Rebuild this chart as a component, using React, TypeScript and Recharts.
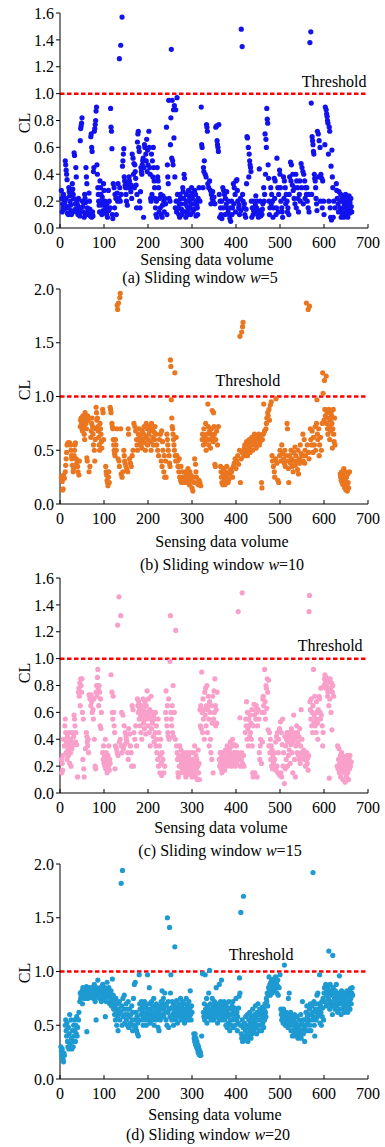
import React from "react"
import { ScatterChart, Scatter, XAxis, YAxis, ReferenceLine, ReferenceDot } from "recharts"

const xTicks = [0, 100, 200, 300, 400, 500, 600, 700]
const yTicksSmall = [0, 0.2, 0.4, 0.6, 0.8, 1.0, 1.2, 1.4, 1.6]
const yTicksLarge = [0, 0.5, 1.0, 1.5, 2.0]

// (a) w=5
const ptsA: number[][] = [
  [3,0.28],[4,0.22],[6,0.18],[7,0.15],[9,0.21],[10,0.14],[12,0.5],[13,0.47],[14,0.43],[15,0.4],[16,0.36],[14,0.22],[15,0.16],[17,0.11],[19,0.1],[20,0.3],[21,0.27],[22,0.24],[23,0.2],[24,0.17],[25,0.13],[26,0.1],[28,0.33],[29,0.29],[30,0.25],[31,0.22],[32,0.56],[33,0.54],[34,0.18],[35,0.14],[36,0.45],[37,0.38],[38,0.12],[39,0.2],[40,0.17],[41,0.1],[43,0.14],[44,0.12],[45,0.09],[46,0.65],[47,0.74],[48,0.76],[49,0.78],[50,0.82],[51,0.2],[52,0.16],[53,0.12],
  [55,0.08],[56,0.25],[57,0.22],[58,0.19],[59,0.45],[60,0.38],[61,0.33],[62,0.15],[63,0.12],[64,0.1],[66,0.26],[67,0.2],[68,0.14],[69,0.09],[70,0.68],[71,0.7],[72,0.6],[73,0.57],[74,0.12],[75,0.09],[76,0.42],[77,0.45],[78,0.72],[79,0.74],[80,0.77],[81,0.8],[82,0.87],[83,0.9],[84,0.47],[85,0.4],[86,0.3],[87,0.25],[88,0.2],[89,0.17],[91,0.35],[92,0.3],[93,0.25],[94,0.2],[95,0.1],[97,0.17],[98,0.13],[99,0.33],[100,0.28],
  [102,0.2],[104,0.15],[106,0.1],[108,0.08],[110,0.28],[112,0.2],[114,0.15],[115,0.89],[116,0.75],[117,0.72],[118,0.59],[119,0.1],[121,0.33],[123,0.3],[125,0.25],[127,0.22],[128,0.1],[130,0.26],[132,0.33],[134,0.22],[135,1.26],[138,1.36],[141,1.57],[136,0.3],[139,0.25],[142,0.46],[143,0.5],[144,0.55],[145,0.59],[146,0.38],[147,0.35],[148,0.32],[149,0.3],[150,0.25],[151,0.2],
  [153,0.17],[155,0.33],[157,0.38],[159,0.3],[161,0.27],[163,0.22],[164,0.55],[166,0.52],[168,0.48],[170,0.47],[171,0.42],[172,0.37],[173,0.32],[175,0.25],[176,0.64],[177,0.7],[178,0.72],[179,0.6],[180,0.57],[181,0.2],[182,0.15],[184,0.45],[185,0.42],[186,0.4],[187,0.47],[188,0.5],[189,0.52],[190,0.08],[192,0.62],[193,0.6],[195,0.55],[196,0.5],[197,0.66],[199,0.58],[200,0.47],
  [202,0.72],[203,0.6],[204,0.45],[205,0.4],[206,0.22],[207,0.2],[208,0.55],[210,0.5],[212,0.6],[213,0.45],[214,0.35],[215,0.3],[216,0.22],[217,0.15],[218,0.1],[220,0.08],[221,0.45],[222,0.38],[223,0.35],[224,0.3],[226,0.22],[228,0.15],[230,0.1],[232,0.08],[234,0.24],[236,0.2],[238,0.22],[240,0.18],[242,0.75],[244,0.47],[245,0.38],[246,0.33],[247,0.95],[248,0.22],[250,0.2],[251,0.62],[252,0.82],[253,1.33],[254,0.52],[255,0.95],[256,0.5],[257,0.47],
  [258,0.88],[259,0.67],[260,0.91],[261,0.38],[262,0.15],[263,0.88],[264,0.2],[266,0.97],[267,0.25],[268,0.2],[269,0.15],[270,0.1],[272,0.08],[274,0.22],[275,0.18],[276,0.14],[277,0.1],[279,0.3],[280,0.27],[281,0.22],[282,0.4],[283,0.37],[284,0.18],[285,0.12],[287,0.25],[288,0.2],[289,0.16],[290,0.1],[292,0.28],[293,0.24],[294,0.2],[296,0.15],[297,0.1],[299,0.3],[300,0.26],
  [301,0.22],[303,0.18],[305,0.14],[306,0.28],[308,0.25],[310,0.2],[312,0.15],[313,0.1],[316,0.3],[318,0.2],[321,0.9],[322,0.62],[323,0.6],[325,0.3],[326,0.45],[327,0.42],[328,0.5],[330,0.4],[332,0.38],[333,0.77],[334,0.75],[335,0.72],[336,0.33],[338,0.3],[340,0.35],[342,0.28],[344,0.25],[346,0.22],[348,0.2],
  [352,0.18],[354,0.75],[356,0.76],[357,0.65],[358,0.62],[359,0.6],[360,0.57],[361,0.77],[362,0.25],[364,0.2],[365,0.15],[366,0.1],[368,0.07],[370,0.3],[372,0.28],[374,0.25],[376,0.22],[378,0.18],[380,0.15],[382,0.12],[384,0.1],[386,0.07],[388,0.05],[390,0.2],[392,0.15],[394,0.33],[396,0.3],[398,0.25],[400,0.35],
  [402,0.36],[404,0.2],[406,0.15],[408,0.1],[410,0.22],[412,1.48],[414,1.35],[416,0.2],[418,0.15],[420,0.1],[422,0.08],[424,0.33],[425,0.68],[426,0.67],[428,0.6],[429,0.38],[430,0.55],[431,0.5],[432,0.47],[433,0.45],[434,0.42],[435,0.2],[437,0.15],[439,0.1],[441,0.2],[443,0.12],[445,0.24],[447,0.15],[449,0.1],
  [451,0.08],[453,0.44],[455,0.2],[457,0.12],[459,0.1],[461,0.18],[463,0.3],[465,0.25],[466,0.7],[467,0.4],[468,0.66],[469,0.6],[470,0.89],[471,0.81],[472,0.78],[473,0.47],[474,0.37],[475,0.2],[477,0.15],[479,0.3],[481,0.25],[483,0.2],[485,0.15],[487,0.37],[489,0.35],[491,0.1],[493,0.52],[495,0.3],[497,0.25],[499,0.43],
  [500,0.4],[502,0.2],[504,0.15],[506,0.08],[508,0.38],[510,0.35],[512,0.3],[514,0.25],[516,0.2],[518,0.15],[520,0.1],[522,0.38],[524,0.49],[526,0.47],[528,0.32],[530,0.28],[532,0.22],[534,0.18],[536,0.4],[538,0.35],[540,0.3],[542,0.12],[544,0.25],[546,0.2],[548,0.48],[550,0.45],
  [552,0.42],[554,0.4],[556,0.35],[558,0.3],[560,0.25],[562,0.2],[564,0.15],[566,0.12],[568,1.38],[570,1.46],[571,0.93],[573,0.68],[574,0.65],[575,0.62],[576,0.57],[577,0.55],[578,0.4],[579,0.37],[580,0.35],[581,0.3],[582,0.22],[583,0.18],[585,0.72],[587,0.7],[589,0.65],[591,0.6],[593,0.4],[595,0.37],[597,0.35],[599,0.2],
  [600,0.1],[602,0.62],[603,0.9],[605,0.88],[606,0.85],[607,0.83],[608,0.8],[609,0.78],[610,0.55],[611,0.2],[612,0.75],[613,0.72],[614,0.15],[615,0.08],[616,0.46],[617,0.06],[618,0.58],[619,0.38],[620,0.3],[622,0.2],[628,0.33],[630,0.22],[632,0.18],[634,0.27],[636,0.15],[638,0.25],[640,0.12],[641,0.23],[642,0.1],[644,0.2],[645,0.08],[646,0.18],[648,0.15],[649,0.25],[650,0.12],[651,0.22],[652,0.1],[653,0.2],[654,0.08],[655,0.17],[656,0.14],[657,0.24],[658,0.11],[659,0.19],[660,0.13],[661,0.22],[662,0.16],
  [5,0.12],[8,0.25],[11,0.19],[18,0.15],[27,0.28],[29,0.12],[42,0.22],[47,0.15],[54,0.19],[58,0.1],[65,0.14],[72,0.08],[90,0.12],[96,0.23],[103,0.12],[107,0.18],[111,0.13],[120,0.07],[124,0.15],[131,0.2],[137,0.2],[154,0.3],[158,0.35],[162,0.32],[167,0.4],[169,0.3],[174,0.15],[183,0.27],[191,0.45],[198,0.42],
  [209,0.25],[211,0.38],[219,0.2],[225,0.12],[229,0.25],[233,0.17],[237,0.12],[243,0.1],[265,0.12],[271,0.18],[273,0.25],[278,0.13],[286,0.08],[291,0.13],[295,0.22],[298,0.18],[302,0.12],[304,0.25],[309,0.09],[311,0.17],[314,0.22],[343,0.18],[347,0.27],[350,0.23],[363,0.08],[367,0.2],[371,0.15],[375,0.1],[379,0.27],[383,0.2],
  [387,0.15],[391,0.1],[395,0.18],[399,0.12],[403,0.28],[407,0.17],[411,0.13],[415,0.25],[419,0.18],[423,0.14],[436,0.08],[440,0.13],[444,0.17],[448,0.2],[452,0.13],[456,0.09],[460,0.14],[464,0.2],[476,0.1],[480,0.18],[484,0.08],[488,0.22],[492,0.15],[496,0.12],[501,0.3],[505,0.12],[509,0.22],[513,0.18],[517,0.12],[521,0.25],
  [525,0.35],[529,0.4],[533,0.3],[537,0.15],[541,0.22],[545,0.35],[549,0.3],[553,0.18],[557,0.22],[561,0.3],[565,0.25],[572,0.25],[584,0.13],[588,0.38],[592,0.2],[596,0.15],[621,0.08],[625,0.15],[629,0.28],[633,0.12],[637,0.2],[639,0.08],[643,0.15],[647,0.22],[663,0.12],
]

// (b) w=10
const ptsB: number[][] = [
  [3,0.25],[5,0.21],[6,0.13],[7,0.14],[8,0.27],[10,0.24],[12,0.3],[13,0.36],[14,0.42],[15,0.48],[16,0.55],[18,0.57],[20,0.57],[22,0.57],[24,0.55],[25,0.5],[26,0.45],[27,0.42],[28,0.36],[30,0.3],[31,0.33],[32,0.45],[33,0.5],[34,0.55],[35,0.57],[37,0.42],[38,0.38],[40,0.35],[41,0.3],[43,0.27],[44,0.4],
  [46,0.72],[47,0.78],[48,0.8],[49,0.75],[50,0.7],[51,0.68],[52,0.82],[53,0.77],[54,0.73],[55,0.65],[56,0.6],[57,0.85],[58,0.8],[59,0.75],[60,0.7],[61,0.43],[62,0.4],[63,0.82],[64,0.78],[66,0.3],[68,0.35],[70,0.62],[71,0.68],[72,0.75],[73,0.8],[74,0.72],[75,0.65],[76,0.55],[78,0.5],[79,0.4],[80,0.6],[81,0.7],[82,0.9],[83,0.85],[84,0.78],[85,0.8],[86,0.72],[87,0.68],[88,0.62],[89,0.55],[90,0.5],[91,0.75],[92,0.7],[93,0.65],[94,0.58],[95,0.52],[97,0.88],[98,0.85],[99,0.6],
  [104,0.35],[105,0.3],[106,0.27],[107,0.22],[108,0.2],[109,0.17],[110,0.25],[111,0.3],[112,0.2],[114,0.9],[115,0.88],[116,0.85],[118,0.75],[119,0.72],[120,0.7],[121,0.6],[122,0.55],[123,0.5],[124,0.47],[125,0.45],[126,0.6],[127,0.55],[128,0.5],[129,0.7],[130,1.85],[131,1.81],[133,1.87],[136,1.92],[137,1.96],[132,0.42],[134,0.4],[135,0.35],[138,0.7],[139,0.28],[141,0.25],[143,0.3],[145,0.5],[146,0.45],[147,0.4],[148,0.38],[150,0.35],[152,0.32],[154,0.3],[155,0.7],[156,0.65],[158,0.42],[160,0.38],[162,0.35],[164,0.45],[166,0.5],[168,0.75],
  [170,0.72],[172,0.68],[174,0.6],[175,0.55],[176,0.5],[178,0.65],[180,0.7],[182,0.62],[183,0.58],[184,0.55],[186,0.52],[187,0.68],[188,0.6],[190,0.65],[191,0.72],[192,0.57],[194,0.5],[195,0.62],[196,0.75],[198,0.7],[199,0.55],[200,0.6],[202,0.65],[203,0.72],[204,0.68],[206,0.58],[207,0.5],[208,0.75],[210,0.7],[211,0.62],[212,0.55],[214,0.67],[215,0.6],[216,0.72],[218,0.65],[220,0.55],[222,0.5],[224,0.45],[226,0.6],[228,0.65],[230,0.4],[231,0.68],[232,0.35],[233,0.58],[234,0.5],[236,0.3],[237,0.45],[238,0.25],[240,0.4],[241,0.25],
  [243,0.65],[244,0.6],[245,0.55],[246,0.5],[248,0.45],[249,0.38],[250,0.35],[251,1.34],[252,1.28],[253,0.97],[254,0.8],[255,0.72],[256,0.7],[257,0.65],[258,0.6],[259,0.55],[260,0.5],[261,1.22],[262,0.45],[263,0.4],[264,0.62],[266,0.45],[267,0.4],[268,0.35],[270,0.3],[271,0.42],[272,0.25],[274,0.22],[275,0.35],[276,0.2],[278,0.3],[280,0.25],[281,0.22],[283,0.2],[285,0.3],[287,0.27],[288,0.22],[290,0.2],[291,0.33],[292,0.25],[294,0.18],[295,0.3],[297,0.27],[298,0.22],[300,0.15],[302,0.12],[303,0.25],[305,0.2],[306,0.42],[308,0.37],[309,0.3],[310,0.25],[312,0.2],[314,0.18],[316,0.22],[318,0.2],[320,0.17],
  [323,0.6],[324,0.65],[326,0.55],[327,0.7],[328,0.62],[330,0.58],[331,0.75],[332,0.5],[334,0.65],[335,0.6],[336,0.93],[337,0.72],[338,0.55],[340,0.68],[341,0.6],[342,0.52],[343,0.65],[344,0.7],[346,0.87],[347,0.62],[348,0.58],[349,0.85],[350,0.72],[351,0.65],[352,0.37],[353,0.35],[354,0.6],[356,0.68],[358,0.55],[360,0.72],
  [365,0.35],[366,0.3],[367,0.25],[368,0.2],[370,0.18],[371,0.28],[372,0.33],[374,0.22],[375,0.18],[376,0.25],[378,0.3],[379,0.35],[380,0.27],[382,0.2],[384,0.23],[386,0.28],[388,0.32],[390,0.3],[392,0.25],[394,0.35],[396,0.38],[398,0.42],[400,0.33],[402,0.4],[404,0.45],[406,0.37],[408,0.5],[409,1.56],[410,0.2],[412,0.42],[413,1.6],[414,0.48],[415,1.65],[416,1.69],[418,0.45],[419,0.52],[420,0.55],[422,0.48],[424,0.58],[425,0.5],[426,0.45],[428,0.55],[430,0.6],[431,0.52],[432,0.48],[434,0.57],[436,0.62],[437,0.55],[438,0.5],[440,0.6],[442,0.65],[443,0.55],[444,0.58],[446,0.52],[448,0.62],[450,0.6],[452,0.65],[453,0.55],[455,0.58],[456,0.63],[458,0.2],[459,0.15],[460,0.6],[462,0.65],[463,0.93],[465,0.68],
  [468,0.7],[469,0.75],[470,0.8],[472,0.85],[473,0.82],[475,0.88],[476,0.78],[478,0.92],[480,0.95],[482,0.45],[483,0.4],[485,0.35],[487,0.3],[488,0.25],[490,0.42],[491,0.98],[493,0.38],[495,0.22],[497,0.2],[499,0.45],[500,0.5],[502,0.4],[504,0.55],[506,0.47],[508,0.42],[510,0.38],[511,0.5],[512,0.35],[514,0.45],[516,0.75],[517,0.7],[518,0.4],[519,0.33],[520,0.2],[522,0.45],[524,0.38],[525,0.5],[526,0.42],[528,0.35],[530,0.3],[531,0.48],[532,0.4],[534,0.53],[535,0.36],[536,0.45],[538,0.4],[540,0.32],[541,0.5],[542,0.28],[544,0.42],[545,0.38],[546,0.55],[548,0.47],[550,0.45],
  [552,0.65],[553,0.4],[555,0.6],[556,0.38],[557,0.5],[558,0.45],[560,1.87],[562,0.55],[564,1.81],[565,0.48],[566,0.42],[567,1.84],[569,0.7],[570,0.6],[572,0.55],[573,0.68],[575,0.48],[576,0.62],[578,0.55],[580,0.72],[581,0.5],[583,0.75],[584,0.97],[585,0.65],[586,0.6],[588,0.7],[589,0.45],[590,0.55],[592,0.62],[594,0.5],[596,0.75],[597,1.22],[598,1.03],[600,0.78],[601,1.15],[602,0.88],[603,0.82],[605,1.19],[606,0.75],[607,0.85],[608,0.7],[609,0.65],[610,0.8],[611,0.88],[612,0.72],[613,0.6],[614,0.78],[615,0.68],[616,0.85],[617,0.82],[618,0.75],[619,0.52],[620,0.7],[621,0.88],[622,0.65],[623,0.58],[624,0.8],[625,0.55],
  [637,0.28],[638,0.25],[639,0.22],[640,0.3],[641,0.2],[642,0.27],[643,0.18],[644,0.25],[645,0.33],[646,0.2],[647,0.15],[648,0.22],[649,0.3],[650,0.13],[651,0.25],[652,0.18],[653,0.12],[654,0.28],[655,0.2],[656,0.15],[658,0.3],
]

// (c) w=15
const ptsC: number[][] = [
  [3,0.25],[4,0.15],[5,0.22],[6,0.17],[7,0.28],[8,0.4],[10,0.35],[11,0.5],[12,0.55],[13,0.45],[14,0.3],[15,0.38],[16,0.25],[17,0.42],[18,0.32],[19,0.28],[20,0.35],[21,0.45],[22,0.22],[23,0.4],[24,0.3],[25,0.2],[26,0.38],[27,0.33],[28,0.45],[30,0.36],[31,0.42],[32,0.58],[33,0.55],[34,0.5],[35,0.38],[36,0.45],[38,0.36],[40,0.12],
  [42,0.75],[43,0.78],[44,0.72],[45,0.82],[46,0.65],[47,0.85],[48,0.8],[49,0.75],[50,0.85],[51,0.6],[52,0.25],[53,0.55],[54,0.18],[55,0.12],[58,0.33],[60,0.45],[61,0.42],[62,0.38],[63,0.35],[64,0.4],[65,0.3],[66,0.73],[68,0.7],[70,0.65],[71,0.73],[72,0.68],[73,0.6],[75,0.62],[76,0.55],[77,0.7],[78,0.4],[80,0.2],[81,0.18],[82,0.75],[83,0.8],[84,0.72],[85,0.86],[86,0.92],[87,0.78],[88,0.65],[89,0.8],[90,0.75],[91,0.5],[92,0.7],[93,0.48],[94,0.6],
  [97,0.3],[98,0.25],[99,0.35],[100,0.22],[101,0.28],[102,0.2],[103,0.4],[104,0.18],[105,0.3],[106,0.25],[107,0.15],[108,0.22],[109,0.28],[110,0.2],[111,0.35],[112,0.17],[113,0.25],[114,0.22],[116,0.88],[118,0.75],[119,0.6],[120,0.55],[121,0.72],[122,0.6],[123,0.5],[124,0.45],[125,0.18],[126,0.35],[128,0.33],[130,0.3],[131,1.25],[132,0.28],[134,1.46],[135,0.38],[137,0.4],[138,1.32],[139,0.35],[140,0.6],[141,0.3],[143,0.58],[144,0.33],[146,0.5],[147,0.36],[148,0.45],[150,0.42],[151,0.4],[152,0.38],[154,0.3],[155,0.25],[156,0.48],[158,0.44],[160,0.35],[162,0.3],[163,0.2],[164,0.65],[166,0.62],[167,0.2],[168,0.45],[170,0.4],[172,0.5],[174,0.35],
  [176,0.7],[177,0.65],[178,0.6],[179,0.68],[180,0.55],[181,0.62],[182,0.5],[183,0.58],[184,0.45],[185,0.65],[186,0.4],[187,0.6],[188,0.55],[189,0.7],[190,0.52],[191,0.62],[192,0.48],[193,0.68],[194,0.58],[195,0.44],[196,0.65],[197,0.55],[198,0.76],[199,0.6],[200,0.5],[201,0.7],[202,0.57],[203,0.45],[204,0.62],[205,0.35],[206,0.55],[207,0.72],[208,0.48],[209,0.6],[210,0.52],[212,0.42],[213,0.57],[214,0.38],[215,0.55],[216,0.45],[217,0.6],[218,0.35],[219,0.5],[220,0.3],[221,0.4],[222,0.25],[223,0.55],[224,0.2],[225,0.45],[226,0.35],[227,0.15],[228,0.28],[229,0.4],[230,0.22],[231,0.13],[232,0.3],[234,0.25],[236,0.15],[238,0.2],
  [240,0.6],[241,0.76],[242,0.55],[243,0.5],[244,0.65],[245,0.45],[246,0.42],[247,0.7],[248,0.4],[250,0.98],[251,1.32],[252,0.6],[253,0.55],[254,0.5],[255,0.65],[256,0.45],[257,0.8],[258,0.42],[260,0.6],[262,0.4],[263,1.21],[265,0.35],[266,0.3],[267,0.25],[268,0.15],[269,0.12],[270,0.28],[271,0.2],[272,0.35],[273,0.25],[274,0.15],[275,0.32],[276,0.22],[277,0.28],[278,0.18],[279,0.25],[280,0.2],[281,0.3],[282,0.15],[283,0.22],[284,0.27],[285,0.18],[286,0.12],[287,0.25],[288,0.2],[289,0.3],[290,0.16],[291,0.22],[292,0.28],[293,0.18],[294,0.14],[295,0.25],[296,0.2],[297,0.3],[298,0.15],[299,0.22],[300,0.12],[301,0.25],[302,0.18],[303,0.2],[304,0.3],[305,0.15],[306,0.35],[307,0.22],[308,0.12],[309,0.28],[310,0.18],[311,0.25],[312,0.1],[313,0.2],[314,0.32],[315,0.15],[316,0.22],[317,0.1],
  [318,0.62],[319,0.5],[320,0.65],[321,0.48],[322,0.9],[323,0.6],[324,0.45],[325,0.7],[326,0.55],[327,0.62],[328,0.4],[329,0.75],[330,0.58],[331,0.78],[332,0.5],[333,0.65],[334,0.8],[335,0.45],[336,0.62],[337,0.72],[338,0.55],[339,0.35],[340,0.68],[341,0.6],[342,0.4],[343,0.3],[344,0.65],[345,0.25],[346,0.52],[347,0.72],[348,0.15],[349,0.55],[350,0.76],[351,0.6],[352,0.85],[353,0.65],[354,0.5],[355,0.62],[356,0.52],[357,0.75],
  [362,0.25],[363,0.2],[364,0.3],[365,0.22],[366,0.18],[367,0.27],[368,0.15],[369,0.25],[370,0.3],[371,0.2],[372,0.23],[373,0.28],[374,0.17],[375,0.25],[376,0.32],[377,0.22],[378,0.27],[379,0.2],[380,0.35],[381,0.25],[382,0.3],[383,0.22],[384,0.28],[385,0.33],[386,0.24],[387,0.38],[388,0.3],[389,0.2],[390,0.26],[391,0.35],[392,0.4],[393,0.28],[394,0.22],[395,0.3],[396,0.36],[397,0.25],[398,0.2],[399,0.3],[400,0.28],[401,0.35],[402,0.22],[404,0.3],[405,1.35],[406,0.25],[408,0.28],[409,0.56],[410,0.2],[412,0.25],[413,0.3],[414,1.49],[415,0.22],[417,0.28],[418,0.2],
  [421,0.45],[422,0.55],[423,0.5],[424,0.68],[425,0.4],[426,0.6],[427,0.48],[428,0.35],[429,0.55],[430,0.5],[431,0.42],[432,0.58],[433,0.45],[434,0.52],[435,0.4],[436,0.62],[437,0.35],[438,0.15],[439,0.12],[440,0.5],[441,0.66],[442,0.58],[443,0.15],[444,0.62],[445,0.55],[446,0.65],[447,0.6],[448,0.12],[449,0.5],[450,0.62],[452,0.55],[453,0.3],[454,0.25],[455,0.35],[456,0.4],[458,0.22],[459,0.6],[460,0.38],[461,0.7],[462,0.72],[463,0.65],[464,0.6],[465,0.92],[466,0.68],[467,0.55],[468,0.8],[469,0.78],[470,0.63],[471,0.85],[472,0.75],[473,0.47],[474,0.84],[475,0.35],[476,0.45],[477,0.3],[478,0.4],[479,0.25],[480,0.35],[481,0.2],[482,0.32],[483,0.18],[484,0.28],[485,0.22],[486,0.3],[487,0.18],[488,0.25],[489,0.2],[490,0.38],[491,0.17],[492,0.42],[493,0.2],[494,0.45],[495,0.15],[496,0.3],[497,0.4],[498,0.14],[499,0.48],[500,0.13],[501,0.53],[502,0.15],[503,0.45],[504,0.12],[505,0.36],[506,0.55],[507,0.2],[508,0.3],[510,0.07],
  [511,0.42],[512,0.18],[513,0.35],[514,0.25],[515,0.4],[516,0.45],[517,0.2],[518,0.38],[519,0.28],[520,0.42],[521,0.32],[522,0.45],[523,0.22],[524,0.4],[525,0.36],[526,0.48],[527,0.3],[528,0.42],[529,0.15],[530,0.38],[531,0.58],[532,0.45],[533,0.25],[534,0.4],[535,0.12],[536,0.35],[537,0.42],[538,0.5],[539,0.3],[540,0.45],[541,0.38],[542,0.28],[543,0.42],[544,0.25],[545,0.48],[546,0.22],[547,0.35],[548,0.62],[549,0.3],[550,0.4],[552,0.26],[553,0.28],[554,0.32],[555,0.25],[556,0.3],[557,0.27],[558,0.2],[559,0.28],[560,0.25],[561,0.3],[562,0.22],[563,0.26],[564,0.17],[565,0.28],
  [566,1.35],[567,1.47],[568,0.68],[569,0.62],[570,0.55],[571,0.7],[572,0.5],[573,0.6],[574,0.45],[575,0.65],[576,0.92],[577,0.52],[578,0.58],[579,0.72],[580,0.5],[581,0.55],[582,0.45],[583,0.68],[584,0.6],[585,0.52],[586,0.4],[587,0.62],[588,0.55],[589,0.72],[590,0.7],[591,0.6],[592,0.55],[593,0.78],[594,0.58],[596,0.5],[597,0.35],[598,0.45],[600,0.8],[601,0.85],[602,0.88],[603,0.82],[604,0.78],[605,0.86],[606,0.8],[607,0.84],[608,0.72],[609,0.75],[610,0.83],[611,0.65],[612,0.11],[613,0.7],[614,0.85],[615,0.78],[616,0.6],[617,0.82],[618,0.47],[619,0.75],[620,0.8],[622,0.72],
  [630,0.2],[631,0.35],[632,0.18],[633,0.25],[634,0.33],[635,0.15],[636,0.22],[637,0.28],[638,0.12],[639,0.2],[640,0.3],[641,0.17],[642,0.24],[643,0.1],[644,0.2],[645,0.27],[646,0.15],[647,0.22],[648,0.08],[649,0.18],[650,0.25],[651,0.12],[652,0.2],[653,0.28],[654,0.15],[655,0.22],[656,0.1],[657,0.25],[658,0.18],[659,0.28],[660,0.2],[662,0.23],
]

// (d) w=20
const ptsD: number[][] = [
  [2,0.3],[3,0.26],[4,0.22],[5,0.28],[6,0.2],[7,0.18],[8,0.16],[9,0.24],[10,0.22],
  [12,0.5],[13,0.55],[14,0.45],[15,0.4],[16,0.52],[17,0.35],[18,0.3],[19,0.48],[20,0.28],[21,0.42],[22,0.6],[23,0.33],[24,0.3],[25,0.55],[26,0.38],[27,0.28],[28,0.45],[29,0.35],[30,0.3],[31,0.5],[32,0.4],[33,0.55],[34,0.45],[35,0.35],[36,0.5],[37,0.42],[38,0.58],[39,0.4],[40,0.48],[42,0.55],[43,0.62],
  [45,0.72],[46,0.8],[47,0.75],[48,0.78],[50,0.82],[51,0.7],[52,0.85],[53,0.78],[55,0.8],[56,0.75],[57,0.83],[58,0.78],[60,0.86],[61,0.44],[62,0.8],[63,0.75],[64,0.82],[66,0.78],[67,0.85],[68,0.8],[70,0.76],[71,0.82],[72,0.78],[73,0.85],[75,0.8],[76,0.75],[77,0.82],[78,0.88],[79,0.78],[80,0.72],[81,0.82],[82,0.55],[83,0.85],[84,0.8],[85,0.76],[86,0.92],[87,0.83],[88,0.78],[90,0.8],[91,0.75],[92,0.85],[93,0.8],[94,0.72],[95,0.78],[96,0.83],[97,0.88],[98,0.8],[99,0.75],[100,0.82],[101,0.77],[102,0.85],[103,0.58],[104,0.8],[105,0.72],[106,0.78],[107,0.9],[108,0.82],[110,0.76],[111,0.85],[112,0.8],[113,0.7],[114,0.78],[115,0.72],[116,0.82],[117,0.68],[118,0.75],[119,0.93],[120,0.7],
  [121,0.78],[122,0.65],[123,0.72],[124,0.6],[125,0.68],[126,0.55],[127,0.75],[128,0.62],[129,0.5],[130,0.7],[131,0.58],[132,0.45],[133,0.65],[134,0.6],[135,0.72],[136,0.55],[138,0.62],[139,1.82],[140,0.68],[141,0.5],[142,1.94],[143,0.75],[144,0.58],[145,0.65],[146,0.78],[147,0.52],[148,0.6],[150,0.7],[151,0.55],[152,0.65],[153,0.5],[154,0.6],[155,0.72],[156,0.48],[157,0.58],[158,0.65],[160,0.52],[161,0.6],[162,0.5],[163,0.68],[164,0.55],[165,0.45],[166,0.62],[167,0.75],[168,0.5],[169,0.88],[170,0.55],[171,0.9],[172,0.48],[173,0.62],[174,0.45],[175,0.58],[176,0.42],[177,0.52],[178,0.4],[179,0.55],[180,0.97],
  [181,0.7],[182,0.65],[184,0.6],[185,0.72],[186,0.55],[187,0.68],[188,0.62],[189,0.5],[190,0.58],[191,0.66],[192,0.72],[193,0.6],[194,0.55],[195,0.68],[196,0.5],[197,0.62],[198,0.58],[199,0.97],[200,0.65],[201,0.55],[202,0.7],[203,0.85],[204,0.6],[205,0.52],[206,0.65],[207,0.58],[208,0.72],[209,0.62],[210,0.55],[211,0.68],[212,0.6],[213,0.75],[214,0.5],[215,0.62],[216,0.58],[217,0.66],[218,0.55],[219,0.7],[220,0.6],[222,0.65],[223,0.48],[224,0.62],[225,0.45],[226,0.58],[227,0.68],[228,0.55],
  [230,0.72],[231,0.65],[232,0.82],[233,0.6],[234,0.7],[235,0.75],[236,0.58],[237,0.66],[238,0.8],[239,0.62],[240,0.7],[241,0.55],[242,0.68],[243,0.5],[244,1.5],[245,0.62],[246,0.72],[247,0.48],[248,0.65],[249,1.41],[250,0.58],[251,0.8],[252,0.97],[253,0.66],[254,0.55],[255,0.72],[256,0.6],[257,0.68],[258,0.5],[259,0.62],[260,0.7],[261,1.23],[262,0.58],[263,0.65],[264,0.55],[265,0.73],[266,0.6],[267,0.52],[268,0.67],[270,0.62],
  [271,0.7],[272,0.58],[273,0.65],[274,0.75],[275,0.6],[276,0.55],[277,0.68],[278,0.62],[279,0.72],[280,0.58],[281,0.65],[282,0.6],[283,0.52],[284,0.7],[285,0.62],[286,0.56],[287,0.75],[288,0.65],[289,0.6],[290,0.68],[291,0.55],[292,0.62],[293,0.72],[294,0.58],[295,0.65],[296,0.82],[297,0.6],[298,0.55],[299,0.68],[300,0.62],
  [304,0.42],[305,0.38],[306,0.35],[307,0.42],[308,0.32],[309,0.38],[310,0.3],[311,0.35],[312,0.28],[313,0.32],[314,0.25],[315,0.3],[316,0.23],[317,0.27],[318,0.22],[319,0.25],[320,0.22],[322,0.4],[324,0.98],
  [326,0.62],[327,0.58],[328,0.7],[329,0.55],[330,0.97],[331,0.65],[332,0.6],[333,0.75],[334,0.52],[335,0.68],[336,0.62],[337,0.58],[338,0.8],[339,0.65],[340,1.01],[341,0.6],[342,0.7],[343,0.55],[344,0.65],[345,0.58],[346,0.75],[347,0.62],[348,0.68],[349,0.55],[350,0.6],[351,0.72],[352,0.64],[353,0.58],[354,0.66],[355,0.85],[356,0.6],[357,0.7],[358,0.52],[359,0.62],[360,0.68],[361,0.56],[362,0.88],[363,0.65],[364,0.6],[365,0.72],[366,0.55],[367,0.92],[368,0.62],[369,0.68],[370,0.58],
  [372,0.65],[373,0.72],[374,0.55],[375,0.68],[376,0.6],[377,0.5],[378,0.7],[379,0.62],[380,0.48],[381,0.58],[382,0.66],[383,0.52],[384,0.72],[385,0.6],[386,0.45],[387,0.55],[388,0.65],[389,0.5],[390,0.6],[391,0.68],[392,0.55],[393,0.72],[394,0.48],[395,0.62],[396,0.56],[397,0.66],[398,0.5],[399,0.6],[400,0.75],[401,0.55],[402,0.62],[403,0.45],[404,0.58],[405,0.52],[406,0.66],[407,0.77],[408,0.94],[409,0.8],[410,0.5],
  [411,1.55],[412,0.42],[413,0.38],[414,0.55],[415,0.35],[416,0.48],[417,1.7],[418,0.4],[419,0.52],[420,0.36],[421,0.45],[422,0.58],[423,0.38],[424,0.5],[425,0.42],[426,0.6],[427,0.35],[428,0.48],[429,0.55],[430,0.4],[431,0.62],[432,0.45],[433,0.52],[434,0.38],[435,0.58],[436,0.48],[437,0.42],[438,0.65],[439,0.5],[440,0.55],[441,0.45],[442,0.6],[443,0.52],[444,0.68],[445,0.48],[446,0.58],[447,0.42],[448,0.62],[449,0.55],[450,0.7],[451,0.5],[452,0.6],[453,0.45],[454,0.65],[455,0.55],[456,0.5],[457,0.62],[458,0.45],[459,0.58],[460,0.67],[461,0.52],[462,0.6],[463,0.48],[464,0.65],[465,0.55],[466,0.7],[467,0.62],[468,0.58],
  [469,0.75],[470,0.72],[471,0.8],[472,0.68],[473,0.78],[474,0.85],[475,0.95],[476,0.82],[477,0.88],[478,0.78],[479,0.9],[480,0.85],[481,0.92],[482,0.8],[483,0.88],[484,0.84],[485,0.93],[486,0.86],[487,0.9],[488,0.82],[489,0.88],[490,0.95],[491,0.85],[492,0.9],[493,0.8],[494,0.87],[495,0.92],[496,0.78],[498,0.85],[500,0.97],
  [502,0.65],[503,0.6],[504,0.55],[505,0.62],[506,0.58],[507,0.52],[508,0.65],[509,0.55],[510,1.06],[511,0.6],[512,0.5],[513,0.58],[514,0.62],[515,0.52],[516,0.55],[517,0.6],[518,0.48],[519,0.75],[520,0.58],[521,0.8],[522,0.5],[523,0.55],[524,0.62],[525,0.45],[526,0.52],[527,0.58],[528,0.4],[529,0.5],[530,0.45],[531,0.55],[532,0.42],[533,0.6],[534,0.48],[535,0.4],[536,0.52],[537,0.45],[538,0.58],[539,0.42],[540,0.5],[541,0.38],[542,0.47],[543,0.55],[544,0.42],[545,0.5],[546,0.45],[547,0.6],[548,0.38],[549,0.52],[550,0.45],[551,0.72],[552,0.55],[553,0.42],[554,0.5],[555,0.48],[556,0.35],[557,0.55],[558,0.45],[559,0.62],[560,0.5],[561,0.68],[562,0.58],[563,0.52],[564,0.45],[565,0.6],[566,0.55],[567,0.65],[568,0.5],[569,0.7],[570,0.45],
  [571,0.6],[572,0.68],[573,0.55],[574,0.62],[575,1.92],[576,0.58],[577,0.72],[578,0.5],[579,0.4],[580,0.65],[581,0.7],[582,0.55],[583,0.62],[584,0.78],[585,0.58],[586,0.8],[587,0.65],[588,0.7],[589,0.6],[590,0.97],[591,0.52],[592,0.68],[593,0.62],[594,0.5],[595,0.72],[596,0.58],[597,0.66],[598,0.75],[599,0.55],[600,0.8],
  [601,0.85],[602,0.72],[603,0.8],[604,0.88],[605,0.68],[606,0.78],[607,0.82],[608,0.7],[609,0.85],[610,0.75],[611,1.19],[612,0.8],[613,0.65],[614,0.88],[615,0.72],[616,0.82],[617,0.68],[618,0.78],[619,0.6],[620,1.15],[621,0.85],[622,0.7],[623,0.8],[624,0.75],[625,0.65],[626,0.82],[627,0.72],[628,0.88],[629,0.68],[630,0.78],[631,0.62],[632,0.75],[633,0.8],[634,0.7],[635,0.96],[636,0.65],[637,0.78],[638,0.72],[639,0.6],[640,0.82],[641,0.7],[642,0.75],[643,0.65],[644,0.8],[645,0.68],[646,0.72],[647,0.62],[648,0.78],[649,0.7],[650,0.75],[651,0.65],[652,0.82],[653,0.7],[654,0.62],[655,0.77],[656,0.68],[657,0.8],[658,0.72],[659,0.65],[660,0.84],[661,0.75],[662,0.7],[663,0.8],[664,0.85],[665,0.78],
]

const FONT = '"Liberation Serif", "Times New Roman", serif'
const PLOT_TOP = 10
const PLOT_H = 215

const panels = [
  { key: "a", pts: ptsA, color: "#1212EE", yMax: 1.6, yTicks: yTicksSmall, w: "5", top: 3, thX: 623, thY: 1.09, labelY: 260, capY: 278, labelX: 207, capX: 200, clY: 123 },
  { key: "b", pts: ptsB, color: "#EA7620", yMax: 2.0, yTicks: yTicksLarge, w: "10", top: 279, thX: 427, thY: 1.15, labelY: 542, capY: 565, labelX: 222, capX: 222, clY: 390 },
  { key: "c", pts: ptsC, color: "#F9A0CA", yMax: 1.6, yTicks: yTicksSmall, w: "15", top: 568, thX: 614, thY: 1.1, labelY: 828, capY: 851, labelX: 221, capX: 220, clY: 673 },
  { key: "d", pts: ptsD, color: "#1E9AD2", yMax: 2.0, yTicks: yTicksLarge, w: "20", top: 854, thX: 457, thY: 1.16, labelY: 1115, capY: 1135, labelX: 215, capX: 208, clY: 973 },
]

const XTick = (props: any) => {
  const { x, payload } = props
  const base = PLOT_TOP + PLOT_H
  return (
    <g>
      <line x1={x} x2={x} y1={base} y2={base - 4} stroke="#000" />
      <text x={x} y={base + 9} dy="0.71em" textAnchor="middle" fill="#000" fontSize={16} fontFamily={FONT}>
        {payload.value}
      </text>
    </g>
  )
}

const textStyle = (left: number, top: number): React.CSSProperties => ({
  position: "absolute",
  left,
  top,
  transform: "translate(-50%, -50%)",
  whiteSpace: "nowrap",
  fontSize: 16,
  lineHeight: 1,
  color: "#000",
  fontFamily: FONT,
})

function Panel({ p }: { p: (typeof panels)[number] }) {
  const data = p.pts.map(([x, y]) => ({ x, y }))
  return (
    <>
      <div style={{ position: "absolute", left: 0, top: p.top }}>
        <ScatterChart width={385} height={PLOT_TOP + PLOT_H + 30} margin={{ top: PLOT_TOP, right: 17, bottom: 0, left: 0 }}>
          <XAxis
            type="number"
            dataKey="x"
            domain={[0, 700]}
            ticks={xTicks}
            interval={0}
            height={30}
            tickLine={false}
            axisLine={{ stroke: "#000" }}
            tick={<XTick />}
          />
          <YAxis
            type="number"
            dataKey="y"
            domain={[0, p.yMax]}
            ticks={p.yTicks}
            interval={0}
            width={60}
            tickSize={4}
            tickMargin={2}
            tickLine={{ stroke: "#000" }}
            axisLine={{ stroke: "#000" }}
            tickFormatter={(v: number) => v.toFixed(1)}
            tick={{ fill: "#000", fontSize: 16, fontFamily: FONT }}
          />
          <ReferenceLine y={1} stroke="#FF0000" strokeWidth={2.5} strokeDasharray="4.5 2.5" />
          <Scatter
            data={data}
            isAnimationActive={false}
            fill={p.color}
            shape={(s: any) => <circle cx={s.cx} cy={s.cy} r={2.6} fill={p.color} />}
          />
          <ReferenceDot
            x={p.thX}
            y={p.thY}
            r={0}
            fill="none"
            stroke="none"
            label={{ value: "Threshold", position: "center", fill: "#000", fontSize: 16, fontFamily: FONT }}
          />
        </ScatterChart>
      </div>
      <div style={{ ...textStyle(25, p.clY), transform: "translate(-50%, -50%) rotate(-90deg)" }}>CL</div>
      <div style={textStyle(p.labelX, p.labelY)}>Sensing data volume</div>
      <div style={textStyle(p.capX, p.capY)}>
        ({p.key}) Sliding window <i>w</i>=
        {p.w}
      </div>
    </>
  )
}

export default function App() {
  return (
    <div style={{ position: "absolute", left: 0, top: 0, width: 385, height: 1147, background: "#fff", overflow: "hidden" }}>
      {panels.map((p) => (
        <Panel key={p.key} p={p} />
      ))}
    </div>
  )
}
